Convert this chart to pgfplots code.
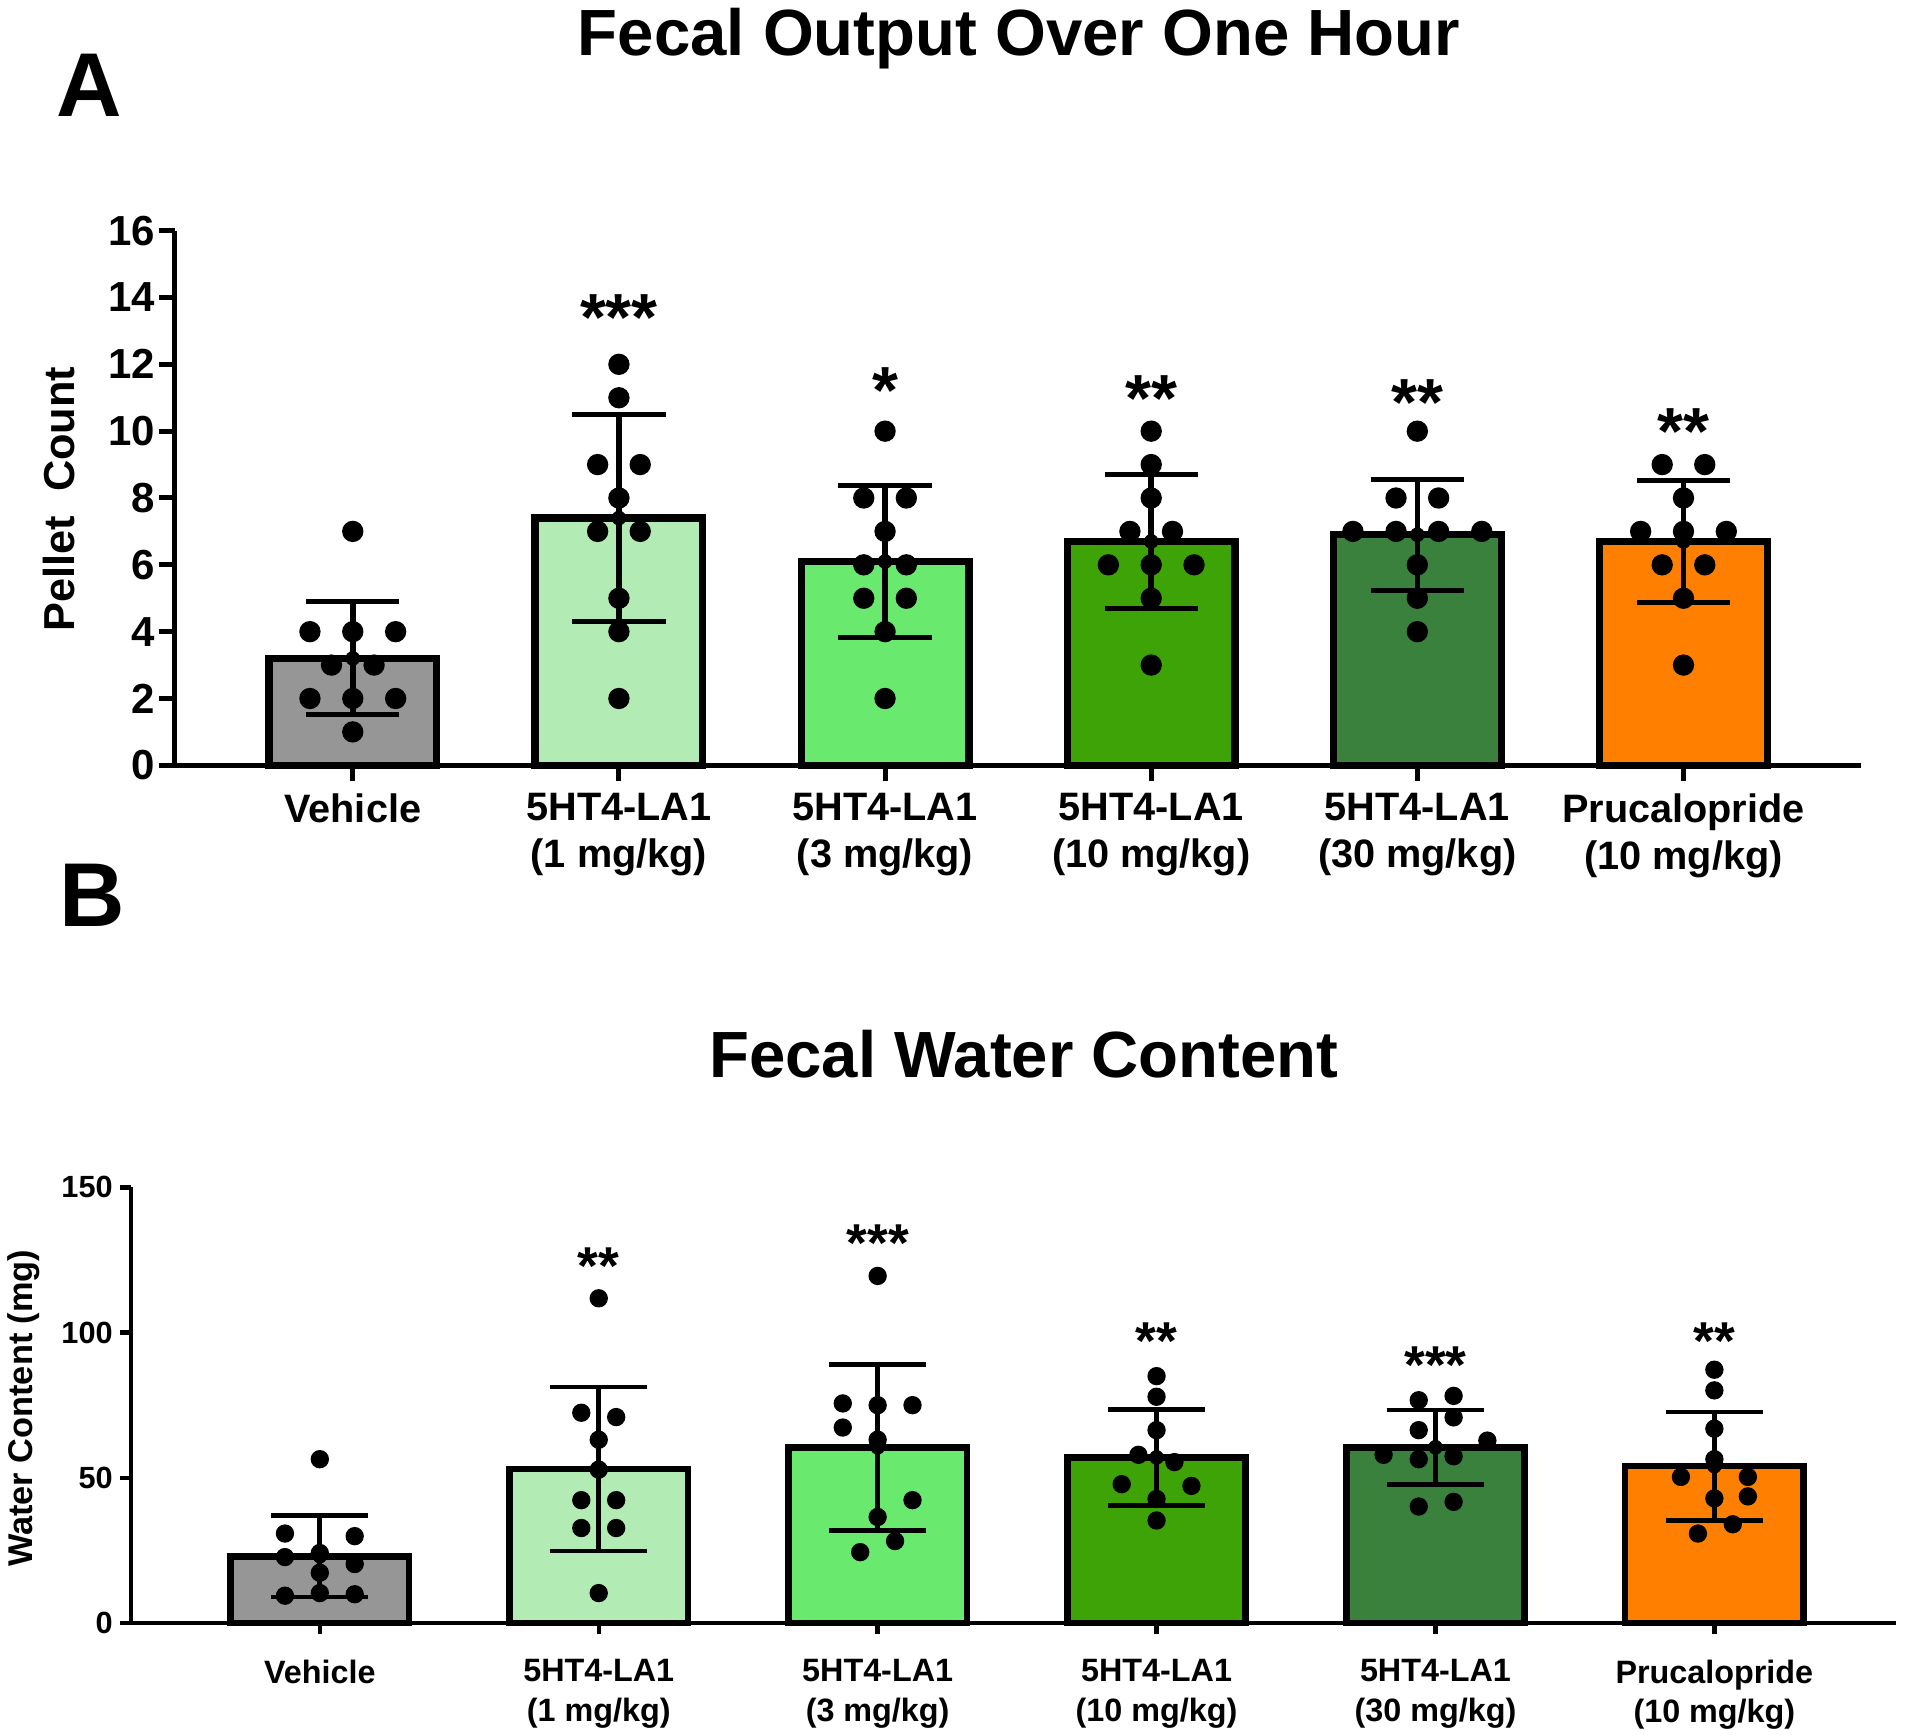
\documentclass[border=0pt]{standalone}
\usepackage{pgfplots}
\pgfplotsset{compat=1.18}
\usepackage{pgfplotstable}
\usepackage{fontspec}
\setmainfont{Liberation Sans}
\definecolor{cveh}{RGB}{150,150,150}
\definecolor{cone}{RGB}{179,235,180}
\definecolor{cthree}{RGB}{106,233,111}
\definecolor{cten}{RGB}{61,163,6}
\definecolor{cthirty}{RGB}{59,129,62}
\definecolor{cpru}{RGB}{255,128,0}

\pgfplotstableread{
x y e
0 3.2 1.69
1 7.4 3.10
2 6.1 2.28
3 6.7 2.00
4 6.9 1.66
5 6.7 1.83
}\barsA
\pgfplotstableread{
x y e
0 23.0 14.0
1 53.0 28.2
2 60.5 28.6
3 57.0 16.5
4 60.5 12.8
5 54.0 18.6
}\barsB

\begin{document}
\begin{tikzpicture}
% ---------------- Panel A ----------------
\begin{axis}[
  at={(52.5pt,290.6pt)}, anchor=south west,
  scale only axis, width=505.8pt, height=160.4pt,
  xmin=-0.668, xmax=5.667, ymin=0, ymax=16,
  enlargelimits=false, clip=false,
  axis x line*=bottom, axis y line*=left,
  axis line style={-, line width=1.5pt, black},
  tick align=outside, major tick length=4.8pt,
  tick style={line width=1.5pt, black},
  xtick={0,1,2,3,4,5},
  xticklabels={Vehicle,{5HT4-LA1\\(1 mg/kg)},{5HT4-LA1\\(3 mg/kg)},{5HT4-LA1\\(10 mg/kg)},{5HT4-LA1\\(30 mg/kg)},{Prucalopride\\(10 mg/kg)}},
  xticklabel style={font=\fontsize{11.9}{14}\selectfont\bfseries, align=center, anchor=north, inner sep=0pt, yshift=-3.5pt},
  ytick={0,2,...,16},
  yticklabel style={font=\fontsize{12.6}{14}\selectfont\bfseries, anchor=east, inner sep=0pt, xshift=-1pt},
  /pgf/number format/assume math mode=true,
  ylabel={Pellet~~Count},
  ylabel style={at={(axis description cs:-0.0688,0.498)}, anchor=center, font=\fontsize{13}{14}\selectfont\bfseries},
  title={Fecal Output Over One Hour},
  title style={at={(axis description cs:0.5006,1.2899)}, anchor=base, font=\fontsize{19.6}{22}\selectfont\bfseries},
]
\addplot[ybar, bar width=0.63, fill=cveh, draw=black, line width=2.2pt] coordinates {(0,3.2)};
\addplot[ybar, bar width=0.63, fill=cone, draw=black, line width=2.2pt] coordinates {(1,7.4)};
\addplot[ybar, bar width=0.63, fill=cthree, draw=black, line width=2.2pt] coordinates {(2,6.1)};
\addplot[ybar, bar width=0.63, fill=cten, draw=black, line width=2.2pt] coordinates {(3,6.7)};
\addplot[ybar, bar width=0.63, fill=cthirty, draw=black, line width=2.2pt] coordinates {(4,6.9)};
\addplot[ybar, bar width=0.63, fill=cpru, draw=black, line width=2.2pt] coordinates {(5,6.7)};
\addplot[black, only marks, mark=none,
  error bars/.cd, y dir=both, y explicit,
  error bar style={line width=1.7pt, black},
  error mark options={rotate=90, line width=1.5pt, mark size=14pt, black}]
  table[x=x, y=y, y error=e] {\barsA};
\addplot[only marks, mark=*, mark size=3pt, black] coordinates {
(0,7) (-0.161,4) (0,4) (0.161,4) (-0.08,3) (0.08,3) (-0.161,2) (0,2) (0.161,2) (0,1)
(1,12) (1,11) (0.92,9) (1.08,9) (1,8) (0.92,7) (1.08,7) (1,5) (1,4) (1,2)
(2,10) (1.92,8) (2.08,8) (2,7) (1.92,6) (2.08,6) (1.92,5) (2.08,5) (2,4) (2,2)
(3,10) (3,9) (3,8) (2.92,7) (3.08,7) (2.839,6) (3,6) (3.161,6) (3,5) (3,3)
(4,10) (3.92,8) (4.08,8) (3.758,7) (3.92,7) (4.08,7) (4.242,7) (4,6) (4,5) (4,4)
(4.92,9) (5.08,9) (5,8) (4.839,7) (5,7) (5.161,7) (4.92,6) (5.08,6) (5,5) (5,3)
};
\begin{scope}[every node/.style={anchor=north, inner sep=0pt, font=\fontsize{20}{20}\selectfont\bfseries}]
\node at (axis cs:1,14.12) {***};
\node at (axis cs:2,11.92) {*};
\node at (axis cs:3,11.68) {**};
\node at (axis cs:4,11.56) {**};
\node at (axis cs:5,10.68) {**};
\end{scope}
\end{axis}

% ---------------- Panel B ----------------
\begin{axis}[
  at={(39.3pt,33.3pt)}, anchor=south west,
  scale only axis, width=529.4pt, height=130.7pt,
  xmin=-0.677, xmax=5.65, ymin=0, ymax=150,
  enlargelimits=false, clip=false,
  axis x line*=bottom, axis y line*=left,
  axis line style={-, line width=1.3pt, black},
  tick align=outside, major tick length=3.3pt,
  tick style={line width=1.3pt, black},
  xtick={0,1,2,3,4,5},
  xticklabels={Vehicle,{5HT4-LA1\\(1 mg/kg)},{5HT4-LA1\\(3 mg/kg)},{5HT4-LA1\\(10 mg/kg)},{5HT4-LA1\\(30 mg/kg)},{Prucalopride\\(10 mg/kg)}},
  xticklabel style={font=\fontsize{9.7}{11.8}\selectfont\bfseries, align=center, anchor=north, inner sep=0pt, yshift=-7.5pt},
  ytick={0,50,100,150},
  yticklabel style={font=\fontsize{9.2}{11}\selectfont\bfseries, anchor=east, inner sep=0pt, xshift=-2pt},
  /pgf/number format/assume math mode=true,
  ylabel={Water Content (mg)},
  ylabel style={at={(axis description cs:-0.0606,0.493)}, anchor=center, font=\fontsize{10.3}{12}\selectfont\bfseries},
  title={Fecal Water Content},
  title style={at={(axis description cs:0.506,1.2058)}, anchor=base, font=\fontsize{19.6}{22}\selectfont\bfseries},
]
\addplot[ybar, bar width=0.64, fill=cveh, draw=black, line width=2pt] coordinates {(0,23.0)};
\addplot[ybar, bar width=0.64, fill=cone, draw=black, line width=2pt] coordinates {(1,53.0)};
\addplot[ybar, bar width=0.64, fill=cthree, draw=black, line width=2pt] coordinates {(2,60.5)};
\addplot[ybar, bar width=0.64, fill=cten, draw=black, line width=2pt] coordinates {(3,57.0)};
\addplot[ybar, bar width=0.64, fill=cthirty, draw=black, line width=2pt] coordinates {(4,60.5)};
\addplot[ybar, bar width=0.64, fill=cpru, draw=black, line width=2pt] coordinates {(5,54.0)};
\addplot[black, only marks, mark=none,
  error bars/.cd, y dir=both, y explicit,
  error bar style={line width=1.5pt, black},
  error mark options={rotate=90, line width=1.4pt, mark size=14.6pt, black}]
  table[x=x, y=y, y error=e] {\barsB};
\addplot[only marks, mark=*, mark size=2.55pt, black] coordinates {
(0,56.4) (-0.125,30.8) (0.125,29.9) (-0.125,22.7) (0,24.1) (0.125,20.3) (0,17.3) (-0.125,9.4) (0,10.3) (0.125,9.9)
(1,111.8) (0.9375,72.4) (1.0625,70.9) (1,63.1) (1,52.8) (0.9375,42.3) (1.0625,42.3) (0.9375,32.7) (1.0625,32.7) (1,10.3)
(2,119.5) (1.875,75.6) (2,75) (2.125,75) (1.875,67.3) (2,63.1) (2.125,42.3) (2,36.5) (2.0625,28.2) (1.9375,24.4)
(3,85) (3,77.9) (3,66.4) (2.935,57.9) (3.064,55.4) (2.875,47.8) (3.125,47.2) (3,42.7) (3,35.3)
(3.94,76.7) (4.065,78.2) (4.065,70.8) (3.94,66.4) (4.186,62.8) (3.814,57.9) (3.94,56.4) (4.065,57.4) (3.94,40.1) (4.065,41.7)
(5,87.2) (5,80.1) (5,66.9) (5,56.4) (4.88,50.3) (5.12,50.3) (5,42.9) (5.12,43.6) (5.066,34) (4.941,30.8)
};
\begin{scope}[every node/.style={anchor=north, inner sep=0pt, font=\fontsize{16}{16}\selectfont\bfseries}]
\node at (axis cs:1,129.3) {**};
\node at (axis cs:2,137.3) {***};
\node at (axis cs:3,103.6) {**};
\node at (axis cs:4,95.4) {***};
\node at (axis cs:5,103.6) {**};
\end{scope}
\end{axis}

% panel letters
\node[anchor=base west, inner sep=0pt, font=\fontsize{27.2}{28}\selectfont\bfseries] at (16.8pt,485.1pt) {A};
\node[anchor=base west, inner sep=0pt, font=\fontsize{27.2}{28}\selectfont\bfseries] at (17.7pt,242.1pt) {B};

\pgfresetboundingbox
\useasboundingbox (0,0) rectangle (576pt,520.2pt);
\end{tikzpicture}
\end{document}
